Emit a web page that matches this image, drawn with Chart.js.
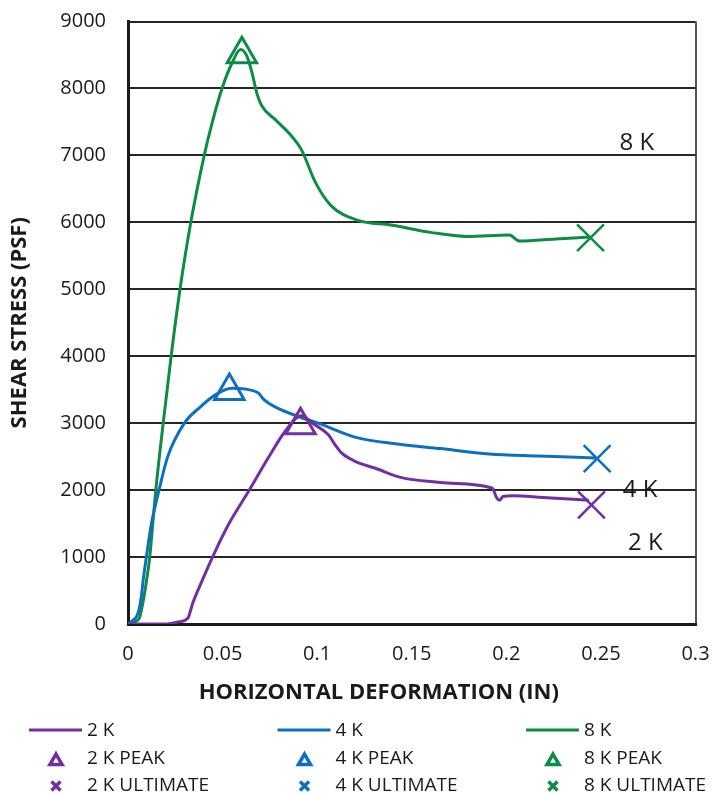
<!DOCTYPE html>
<html>
<head>
<meta charset="utf-8">
<title>Shear stress vs horizontal deformation</title>
<script src="https://cdn.jsdelivr.net/npm/chart.js"></script>
<style>
  html, body { margin: 0; padding: 0; background: #fff; }
</style>
</head>
<body>
<canvas id="chart" width="717" height="795"></canvas>
<script>
// series names and colours
const seriesNames = ['2 K', '4 K', '8 K'];
const seriesColors = ['#7030A0', '#0F6FBF', '#0F8B45'];

// 2 K normal load
const x2K = [0, 0.02, 0.0272, 0.0316, 0.0342, 0.0377, 0.0447, 0.0534, 0.0639, 0.0743, 0.0831, 0.0915, 0.098, 0.1058, 0.1093, 0.1127, 0.118, 0.1215, 0.1304, 0.1441, 0.1651, 0.1913, 0.193, 0.1948, 0.1965, 0.1982, 0.2035, 0.2192, 0.2436];
const y2K = [0, 0, 35, 85, 310, 550, 1000, 1500, 1990, 2490, 2880, 3110, 2990, 2830, 2685, 2560, 2460, 2410, 2330, 2190, 2115, 2040, 2015, 1890, 1850, 1905, 1915, 1890, 1850];

// 4 K normal load
const x4K = [0, 0.0028, 0.0045, 0.0058, 0.007, 0.008, 0.0097, 0.0124, 0.0164, 0.021, 0.0298, 0.0377, 0.0466, 0.055, 0.0654, 0.069, 0.0717, 0.078, 0.09, 0.1005, 0.1215, 0.1424, 0.165, 0.191, 0.217, 0.247];
const y4K = [0, 60, 110, 210, 400, 650, 1000, 1500, 2000, 2500, 3000, 3230, 3430, 3520, 3490, 3450, 3355, 3240, 3100, 3000, 2780, 2690, 2620, 2540, 2510, 2480];

// 8 K normal load
const x8K = [0, 0.0045, 0.006, 0.0071, 0.0084, 0.0098, 0.0115, 0.0131, 0.0147, 0.0186, 0.0228, 0.0275, 0.0332, 0.0403, 0.0445, 0.0497, 0.055, 0.0595, 0.0629, 0.0656, 0.0681, 0.0707, 0.078, 0.0864, 0.0916, 0.099, 0.1073, 0.1215, 0.139, 0.16, 0.179, 0.2016, 0.207, 0.226, 0.244];
const y8K = [0, 45, 90, 210, 400, 650, 1000, 1500, 2000, 3000, 4000, 5000, 6000, 7000, 7490, 8000, 8380, 8580, 8480, 8230, 7930, 7740, 7530, 7290, 7090, 6600, 6250, 6030, 5960, 5850, 5790, 5810, 5720, 5750, 5780];

// peak and ultimate points (2 K, 4 K, 8 K)
const peakX = [0.0912, 0.0536, 0.0602];
const peakY = [2970, 3480, 8510];
const ultX = [0.245, 0.248, 0.2445];
const ultY = [1780, 2470, 5770];

// text labels placed inside the plot
const labelX = [0.2735, 0.2707, 0.269];
const labelY = [1210, 2005, 7180];

// axes
const xTicks = [0, 0.05, 0.1, 0.15, 0.2, 0.25, 0.3];
const xTickLabels = ['0', '0.05', '0.1', '0.15', '0.2', '0.25', '0.3'];
const yTicks = [0, 1000, 2000, 3000, 4000, 5000, 6000, 7000, 8000, 9000];
const yTickLabels = ['0', '1000', '2000', '3000', '4000', '5000', '6000', '7000', '8000', '9000'];
const xTitle = 'HORIZONTAL DEFORMATION (IN)';
const yTitle = 'SHEAR STRESS (PSF)';

const FONT = '"Open Sans", "Noto Sans", sans-serif';
const TEXT = '#1a1a1a';

const curves = [[x2K, y2K], [x4K, y4K], [x8K, y8K]];
const toPoints = (xs, ys) => xs.map((v, i) => ({ x: v, y: ys[i] }));

const datasets = [];
seriesNames.forEach((name, i) => {
  datasets.push({
    label: name + ' PEAK',
    data: [{ x: peakX[i], y: peakY[i] }],
    pointStyle: 'triangle',
    pointRadius: 17,
    pointBorderWidth: 3,
    pointBorderColor: seriesColors[i],
    pointBackgroundColor: 'rgba(0,0,0,0)',
    showLine: false,
    order: 0
  });
  datasets.push({
    label: name + ' ULTIMATE',
    data: [{ x: ultX[i], y: ultY[i] }],
    pointStyle: 'crossRot',
    pointRadius: 19,
    pointBorderWidth: 2.5,
    pointBorderColor: seriesColors[i],
    showLine: false,
    order: 0
  });
});
curves.forEach(([xs, ys], i) => {
  datasets.push({
    label: seriesNames[i],
    data: toPoints(xs, ys),
    showLine: true,
    borderColor: seriesColors[i],
    borderWidth: 3,
    pointRadius: 0,
    cubicInterpolationMode: 'monotone',
    order: 1
  });
});

function drawTriangle(ctx, cx, cy, r) {
  ctx.beginPath();
  for (let k = 0; k < 3; k++) {
    const a = k * 2 * Math.PI / 3;
    const px = cx + Math.sin(a) * r;
    const py = cy - Math.cos(a) * r;
    if (k === 0) ctx.moveTo(px, py); else ctx.lineTo(px, py);
  }
  ctx.closePath();
  ctx.stroke();
}

function drawCross(ctx, cx, cy, h) {
  ctx.beginPath();
  ctx.moveTo(cx - h, cy - h); ctx.lineTo(cx + h, cy + h);
  ctx.moveTo(cx + h, cy - h); ctx.lineTo(cx - h, cy + h);
  ctx.stroke();
}

// labels in the plot, x title and the 3x3 legend
const extras = {
  id: 'extras',
  afterDraw(chart) {
    const { ctx, scales: { x, y }, chartArea } = chart;
    ctx.save();
    ctx.fillStyle = TEXT;
    ctx.textBaseline = 'middle';

    ctx.textAlign = 'center';
    ctx.font = '24px ' + FONT;
    seriesNames.forEach((name, i) => {
      ctx.fillText(name, x.getPixelForValue(labelX[i]), y.getPixelForValue(labelY[i]));
    });

    ctx.font = 'bold 22px ' + FONT;
    ctx.fillText(xTitle, (chartArea.left + chartArea.right) / 2 - 33, 693);

    ctx.textAlign = 'left';
    ctx.font = '19px ' + FONT;
    seriesNames.forEach((name, i) => {
      const col = 29 + i * 248.5;
      ctx.strokeStyle = seriesColors[i];
      ctx.lineWidth = 3;
      ctx.beginPath();
      ctx.moveTo(col, 730);
      ctx.lineTo(col + 53, 730);
      ctx.stroke();
      ctx.lineWidth = 3.5;
      drawTriangle(ctx, col + 27, 761, 7);
      drawCross(ctx, col + 27, 786, 4.5);
      ctx.fillText(name, col + 58, 731);
      ctx.fillText(name + ' PEAK', col + 58, 759);
      ctx.fillText(name + ' ULTIMATE', col + 58, 786);
    });
    ctx.restore();
  }
};

new Chart(document.getElementById('chart'), {
  type: 'scatter',
  data: { datasets },
  options: {
    responsive: false,
    animation: false,
    layout: { padding: { top: 15, right: 12, bottom: 90, left: 0 } },
    plugins: {
      legend: { display: false },
      tooltip: { enabled: false }
    },
    scales: {
      x: {
        type: 'linear',
        min: 0,
        max: 0.3,
        afterBuildTicks: (scale) => { scale.ticks = xTicks.map(v => ({ value: v })); },
        afterFit: (scale) => {
          scale.height = 81;
          scale.paddingLeft = 0;
          scale.paddingRight = 0;
        },
        ticks: {
          color: TEXT,
          font: { family: FONT, size: 20 },
          padding: 18,
          maxRotation: 0,
          callback: (value, index) => xTickLabels[index]
        },
        grid: {
          drawTicks: false,
          lineWidth: 2,
          color: (ctx) => (ctx.tick && ctx.tick.value === 0.3 ? '#555' : 'rgba(0,0,0,0)')
        },
        border: { color: '#1a1a1a', width: 3 }
      },
      y: {
        type: 'linear',
        min: 0,
        max: 9000,
        afterBuildTicks: (scale) => { scale.ticks = yTicks.map(v => ({ value: v })); },
        afterFit: (scale) => {
          scale.width = 128;
          scale.paddingTop = 0;
          scale.paddingBottom = 0;
        },
        ticks: {
          color: TEXT,
          font: { family: FONT, size: 20 },
          padding: 22,
          callback: (value, index) => yTickLabels[index]
        },
        grid: { drawTicks: false, lineWidth: 2, color: '#262626' },
        border: { color: '#1a1a1a', width: 3 },
        title: {
          display: true,
          text: yTitle,
          color: TEXT,
          font: { family: FONT, size: 22, weight: 'bold' },
          padding: { top: 7, bottom: 0 }
        }
      }
    }
  },
  plugins: [extras]
});
</script>
</body>
</html>
